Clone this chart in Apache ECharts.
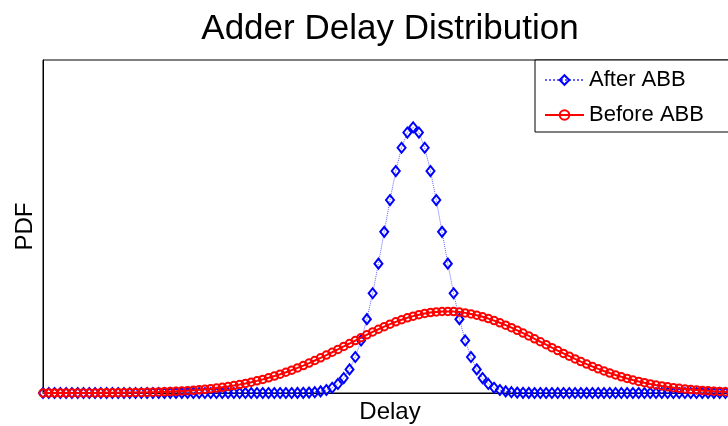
<!DOCTYPE html>
<html>
<head>
<meta charset="utf-8">
<title>Adder Delay Distribution</title>
<script src="https://cdn.jsdelivr.net/npm/echarts@6/dist/echarts.min.js"></script>
<style>
  html, body { margin: 0; padding: 0; background: #fff; }
  #chart { width: 728px; height: 426px; }
</style>
</head>
<body>
<div id="chart"></div>
<script>
// Chart text
const chartTitle = 'Adder Delay Distribution';
const xAxisName = 'Delay';
const yAxisName = 'PDF';
const seriesNames = ['After ABB', 'Before ABB'];

// PDF samples on a uniform delay grid (121 steps, index 0..120)
const pdfAfterABB = [
  0, 0, 0, 0, 0, 0, 0, 0, 0, 0,
  0, 0, 0, 0, 0, 0, 0, 0, 0, 0,
  0, 0, 0, 0, 0, 0, 0, 0, 0, 0,
  0, 0, 0, 0, 0, 0, 0, 0, 0, 0,
  0, 0, 0, 0.00001, 0.00003, 0.00006, 0.00012, 0.00025, 0.00048, 0.00089,
  0.00158, 0.00272, 0.00448, 0.00709, 0.01080, 0.01579, 0.02218, 0.02995, 0.03884, 0.04839,
  0.05794, 0.06665, 0.07365, 0.07821, 0.07979, 0.07821, 0.07365, 0.06665, 0.05794, 0.04839,
  0.03884, 0.02995, 0.02218, 0.01579, 0.01080, 0.00709, 0.00448, 0.00272, 0.00158, 0.00089,
  0.00048, 0.00025, 0.00012, 0.00006, 0.00003, 0.00001, 0, 0, 0, 0,
  0, 0, 0, 0, 0, 0, 0, 0, 0, 0,
  0, 0, 0, 0, 0, 0, 0, 0, 0, 0,
  0, 0, 0, 0, 0, 0, 0, 0, 0, 0,
  0
];

const pdfBeforeABB = [
  0.0000044, 0.0000056, 0.0000071, 0.0000090, 0.0000114, 0.0000144, 0.0000181, 0.0000226, 0.0000282, 0.0000351,
  0.0000435, 0.0000536, 0.0000660, 0.0000808, 0.0000986, 0.0001199, 0.0001454, 0.0001755, 0.0002113, 0.0002533,
  0.0003028, 0.0003604, 0.0004275, 0.000506, 0.000596, 0.000700, 0.000819, 0.000955, 0.001110, 0.001284,
  0.001481, 0.001702, 0.001950, 0.002225, 0.002531, 0.002869, 0.003237, 0.003643, 0.004087, 0.004567,
  0.005081, 0.005640, 0.006233, 0.006867, 0.007536, 0.008242, 0.008982, 0.009756, 0.010557, 0.011385,
  0.012233, 0.013100, 0.013977, 0.014860, 0.015744, 0.016621, 0.017486, 0.018328, 0.019144, 0.019926,
  0.020668, 0.021359, 0.021996, 0.022574, 0.023081, 0.023520, 0.023880, 0.024162, 0.024360, 0.024473,
  0.024498, 0.024438, 0.024291, 0.024059, 0.023745, 0.023353, 0.022888, 0.022351, 0.021749, 0.021090,
  0.020377, 0.019617, 0.018821, 0.017993, 0.017140, 0.016270, 0.015391, 0.014506, 0.013624, 0.012752,
  0.011892, 0.011050, 0.010234, 0.009442, 0.008680, 0.007955, 0.007262, 0.006608, 0.005988, 0.005410,
  0.004871, 0.004368, 0.003903, 0.003477, 0.003085, 0.002729, 0.002406, 0.002112, 0.001847, 0.001610,
  0.001399, 0.001210, 0.001046, 0.000899, 0.000769, 0.000657, 0.000559, 0.000473, 0.000399, 0.000336,
  0.000282
];

const FONT = '"Liberation Sans", Arial, Helvetica, sans-serif';

// pair each sample with its grid step
const toPoints = arr => arr.map((v, i) => [i, v]);

const chart = echarts.init(document.getElementById('chart'), null, { renderer: 'canvas' });

chart.setOption({
  animation: false,
  backgroundColor: '#ffffff',
  title: {
    text: chartTitle,
    left: 390,
    top: 12,
    textAlign: 'center',
    padding: 0,
    textStyle: { fontFamily: FONT, fontSize: 35, fontWeight: 'normal', color: '#000' }
  },
  grid: {
    left: 43,
    right: -9,
    top: 60,
    bottom: 33,
    outerBoundsMode: 'none',
    containLabel: false,
    show: true,
    borderColor: '#000',
    borderWidth: 1,
    backgroundColor: 'transparent'
  },
  legend: {
    left: 535,
    top: 60,
    orient: 'vertical',
    itemWidth: 39,
    itemHeight: 12,
    itemGap: 13,
    padding: [9, 40, 6, 9],
    backgroundColor: '#fff',
    borderColor: '#000',
    borderWidth: 1,
    borderRadius: 0,
    textStyle: { fontFamily: FONT, fontSize: 22, color: '#000', lineHeight: 22 },
    data: seriesNames
  },
  xAxis: {
    type: 'value',
    min: 0,
    max: 120,
    name: xAxisName,
    nameLocation: 'middle',
    nameGap: 7,
    nameTextStyle: { fontFamily: FONT, fontSize: 24, color: '#000', verticalAlign: 'top' },
    axisLine: { show: true, onZero: false, lineStyle: { color: '#000', width: 1 } },
    axisTick: { show: false },
    axisLabel: { show: false },
    splitLine: { show: false }
  },
  yAxis: {
    type: 'value',
    min: 0,
    max: 0.1,
    name: yAxisName,
    nameLocation: 'middle',
    nameGap: 6,
    nameTextStyle: { fontFamily: FONT, fontSize: 24, color: '#000' },
    axisLine: { show: true, lineStyle: { color: '#000', width: 1 } },
    axisTick: { show: false },
    axisLabel: { show: false },
    splitLine: { show: false }
  },
  series: [
    {
      name: seriesNames[0],
      type: 'line',
      data: toPoints(pdfAfterABB),
      symbol: 'diamond',
      symbolSize: [8, 10],
      showAllSymbol: true,
      itemStyle: { color: 'rgba(255,255,255,0)', borderColor: '#0000ff', borderWidth: 2 },
      lineStyle: { color: '#3b3bff', width: 1, type: 'dotted', opacity: 0.8 },
      z: 2
    },
    {
      name: seriesNames[1],
      type: 'line',
      data: toPoints(pdfBeforeABB),
      symbol: 'circle',
      symbolSize: 7.5,
      showAllSymbol: true,
      itemStyle: { color: 'rgba(255,255,255,0)', borderColor: '#ff0000', borderWidth: 2 },
      lineStyle: { color: '#ff0000', width: 2, type: 'solid' },
      z: 3
    }
  ]
});
</script>
</body>
</html>
